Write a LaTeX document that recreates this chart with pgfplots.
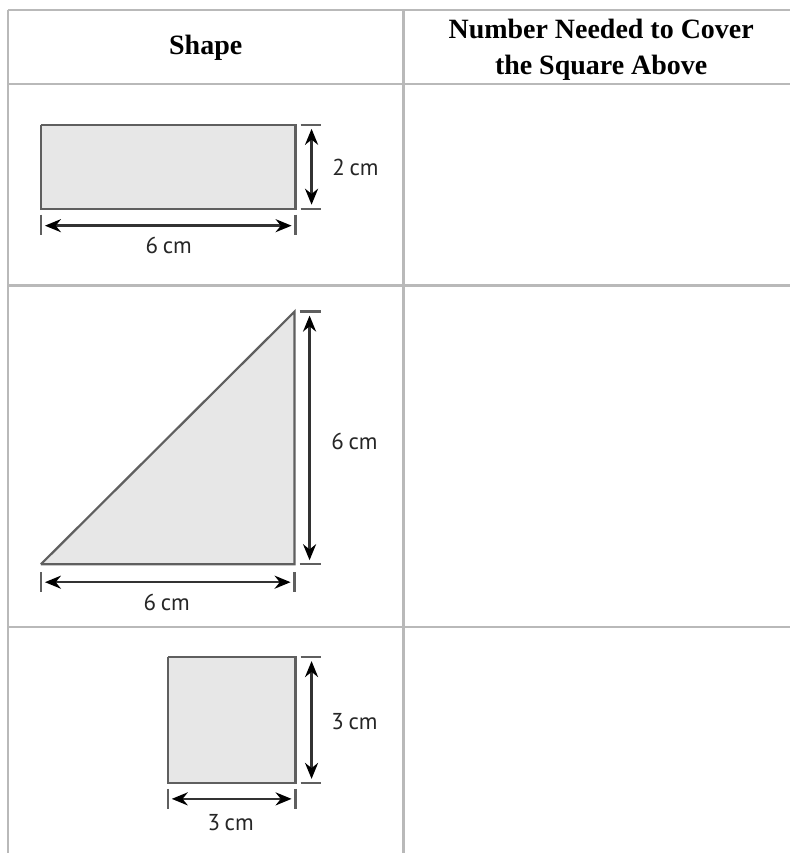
\documentclass[border=0pt]{standalone}
\usepackage{pgfplots}
\pgfplotsset{compat=1.18}
\usepackage{fontspec}
\setmainfont{Liberation Serif}
\newfontfamily\dimfont[WordSpace=0.75]{PT Sans}
\usetikzlibrary{arrows.meta}

\definecolor{gridgray}{RGB}{185,185,185}
\definecolor{edgegray}{RGB}{95,95,95}
\definecolor{fillgray}{RGB}{231,231,231}
\definecolor{arrowgray}{RGB}{50,50,50}

\tikzset{
    dimline/.style={arrowgray, line width=1.3pt,
        {Stealth[length=8pt,width=6.5pt,black]}-{Stealth[length=8pt,width=6.5pt,black]}},
    endtick/.style={edgegray, line width=1.1pt},
    figshape/.style={edgegray, line width=1.1pt, fill=fillgray},
    lbl/.style={font=\dimfont\fontsize{11.5}{13}\selectfont, text=black!85},
    hdr/.style={font=\bfseries\fontsize{14}{18}\selectfont, align=center},
}

\begin{document}
\begin{tikzpicture}
\begin{axis}[
    width=395.5pt, height=427pt,
    scale only axis,
    xmin=0, xmax=791,
    ymin=0, ymax=854,
    y dir=reverse,
    hide axis,
    clip=false,
    unbounded coords=jump,
]
% page background
\addplot[draw=none, fill=white] coordinates {(0,0) (791,0) (791,854) (0,854) (0,0)};

% table rules
\addplot[gridgray, line width=1.2pt] coordinates {
    (8,10) (791,10) (nan,nan)
    (8,84) (791,84) (nan,nan)
    (8,286) (791,286) (nan,nan)
    (8,628) (791,628) (nan,nan)
    (8,10) (8,854) (nan,nan)
    (404,10) (404,854)};

% header
\node[hdr] at (axis cs:206,48) {Shape};
\node[hdr] at (axis cs:602,50) {Number Needed to Cover\\the Square Above};

% row 1: 6 cm by 2 cm rectangle
\addplot[figshape] coordinates {(41,125) (296,125) (296,209) (41,209) (41,125)};
\addplot[endtick] coordinates {(301,125) (321,125) (nan,nan) (301,209) (321,209) (nan,nan)
    (41,215) (41,235) (nan,nan) (296,215) (296,235)};
\addplot[dimline] coordinates {(312,129) (312,205)};
\addplot[dimline] coordinates {(45,226) (292,226)};
\node[lbl] at (axis cs:356,168) {2 cm};
\node[lbl] at (axis cs:169,246) {6 cm};

% row 2: right triangle, legs 6 cm
\addplot[figshape] coordinates {(41,565) (295,565) (295,312) (41,565)};
\addplot[endtick] coordinates {(300,312) (321,312) (nan,nan) (300,565) (321,565) (nan,nan)
    (41,573) (41,593) (nan,nan) (295,573) (295,593)};
\addplot[dimline] coordinates {(310,316) (310,561)};
\addplot[dimline] coordinates {(45,583) (291,583)};
\node[lbl] at (axis cs:355,442) {6 cm};
\node[lbl] at (axis cs:167,603) {6 cm};

% row 3: 3 cm square
\addplot[figshape] coordinates {(168,658) (296,658) (296,784) (168,784) (168,658)};
\addplot[endtick] coordinates {(301,658) (321,658) (nan,nan) (301,784) (321,784) (nan,nan)
    (168,790) (168,810) (nan,nan) (296,790) (296,810)};
\addplot[dimline] coordinates {(312,662) (312,780)};
\addplot[dimline] coordinates {(172,800) (292,800)};
\node[lbl] at (axis cs:355,723) {3 cm};
\node[lbl] at (axis cs:231,824) {3 cm};
\end{axis}
\end{tikzpicture}
\end{document}
